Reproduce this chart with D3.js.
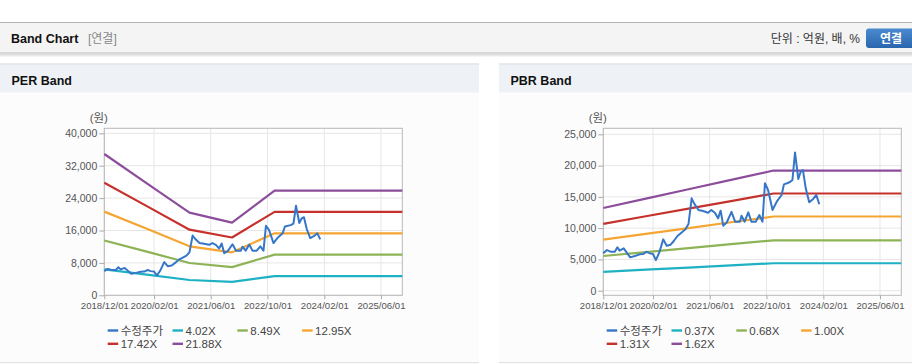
<!DOCTYPE html>
<html><head><meta charset="utf-8">
<script src="https://cdn.jsdelivr.net/npm/d3@7/dist/d3.min.js"></script>
<style>
html,body{margin:0;padding:0;background:#fff;}
svg{display:block;font-family:"Liberation Sans",Arial,"Noto Sans CJK KR",sans-serif;}
</style></head><body>
<svg id="c" width="912" height="364"></svg>
<script>
// ---------- data ----------
const priceDates = ["2018-12-01","2019-01-01","2019-02-01","2019-03-10","2019-04-01","2019-04-20","2019-05-25","2019-06-25","2019-07-20","2019-08-28","2019-10-10","2019-11-10","2019-12-05","2020-01-05","2020-02-01","2020-02-25","2020-03-25","2020-04-28","2020-05-28","2020-07-01","2020-07-28","2020-08-28","2020-10-01","2020-11-05","2020-12-01","2020-12-28","2021-01-18","2021-02-25","2021-04-05","2021-05-18","2021-06-15","2021-07-15","2021-08-12","2021-09-03","2021-09-25","2021-10-25","2021-12-05","2022-01-05","2022-02-15","2022-03-01","2022-03-28","2022-04-28","2022-05-25","2022-07-01","2022-08-01","2022-08-28","2022-09-18","2022-10-15","2022-11-22","2022-12-28","2023-02-08","2023-02-28","2023-04-18","2023-05-12","2023-06-03","2023-07-01","2023-07-22","2023-08-10","2023-09-03","2023-10-03","2023-11-06","2023-12-03","2023-12-28"];
const priceValues = [5970,6500,6240,6240,6930,6400,6770,5970,5330,5540,5810,5860,6240,5970,5860,4900,6080,8210,7200,7360,7940,8740,9270,9810,10660,14760,13960,12900,12740,12470,12900,12470,11570,12790,10400,10900,12600,11030,11030,11990,11030,12530,11030,11030,12100,11030,17170,16100,12900,14230,15300,17000,17330,17700,22100,17860,19020,19290,16370,14130,14660,15300,13810];

const bandDates = ["2018-12-01","2019-12-01","2020-12-01","2021-12-01","2022-12-01","2025-12-01"];
// PER bands
const per402 = [6380,5100,3780,3300,4750,4750];
const per849 = [13540,10770,7980,6960,10040,10040];
const per1295 = [20660,16420,12100,10620,15310,15310];
const per1742 = [27780,22020,16200,14280,20590,20590];
const per2188 = [34900,27640,20400,17940,25860,25860];
// PBR bands
const pbr037 = [3020,3360,3700,4050,4390,4390];
const pbr068 = [5550,6180,6810,7440,8060,8060];
const pbr100 = [8160,9090,10010,10940,11860,11860];
const pbr131 = [10690,11900,13110,14320,15540,15540];
const pbr162 = [13220,14720,16220,17710,19210,19210];

const perLabels = ["수정주가","4.02X","8.49X","12.95X","17.42X","21.88X"];
const pbrLabels = ["수정주가","0.37X","0.68X","1.00X","1.31X","1.62X"];
const xTickLabels = ["2018/12/01","2020/02/01","2021/06/01","2022/10/01","2024/02/01","2025/06/01"];
const perYTicks = [0,8000,16000,24000,32000,40000];
const pbrYTicks = [0,5000,10000,15000,20000,25000];
const xDomain = ["2018-12-01","2025-12-01"];
const perYDomain = [0,41240];
const pbrYDomain = [-735,25960];
const colors = ["#3676c8","#1eb1c4","#8db356","#f5a532","#c6312c","#8c4d9b"];

// ---------- drawing ----------
const svg = d3.select("#c");
const parse = d3.timeParse("%Y-%m-%d");
const parseTick = d3.timeParse("%Y/%m/%d");
const fmt = d3.format(",");

// header
const defs = svg.append("defs");
const sh = defs.append("linearGradient").attr("id","sh").attr("x1",0).attr("y1",0).attr("x2",0).attr("y2",1);
sh.append("stop").attr("offset","0").attr("stop-color","#d4d4d4");
sh.append("stop").attr("offset","1").attr("stop-color","#ffffff");
const bt = defs.append("linearGradient").attr("id","bt").attr("x1",0).attr("y1",0).attr("x2",0).attr("y2",1);
bt.append("stop").attr("offset","0").attr("stop-color","#4b8ad0");
bt.append("stop").attr("offset","1").attr("stop-color","#2a66ad");

svg.append("rect").attr("x",0).attr("y",22).attr("width",912).attr("height",1).attr("fill","#b4b4b4");
svg.append("rect").attr("x",0).attr("y",23).attr("width",912).attr("height",30).attr("fill","#f4f4f4");
svg.append("rect").attr("x",0).attr("y",52.5).attr("width",912).attr("height",1).attr("fill","#bdbdbd");
svg.append("rect").attr("x",0).attr("y",53.5).attr("width",912).attr("height",4).attr("fill","url(#sh)");
svg.append("text").attr("x",11).attr("y",43).attr("font-size","12.5px").attr("font-weight","bold").attr("fill","#111").text("Band Chart");
svg.append("text").attr("x",88).attr("y",43).attr("font-size","12px").attr("fill","#888").text("[연결]");
svg.append("text").attr("x",860).attr("y",43).attr("text-anchor","end").attr("font-size","12px").attr("fill","#333").text("단위 : 억원, 배, %");
svg.append("rect").attr("x",866).attr("y",28.5).attr("width",52).attr("height",19.5).attr("rx",3).attr("fill","url(#bt)");
svg.append("text").attr("x",891).attr("y",43).attr("text-anchor","middle").attr("font-size","12px").attr("font-weight","bold").attr("fill","#fff").text("연결");

function panel(opt){
  const g = svg.append("g");
  g.append("rect").attr("x",opt.px).attr("y",63.5).attr("width",opt.pw).attr("height",1.2).attr("fill","#d6d6d6");
  g.append("rect").attr("x",opt.px).attr("y",64.7).attr("width",opt.pw).attr("height",28).attr("fill","#eef1f6");
  g.append("rect").attr("x",opt.px).attr("y",92.7).attr("width",opt.pw).attr("height",269.5).attr("fill","#fcfcfc");
  g.append("rect").attr("x",opt.px).attr("y",362.2).attr("width",opt.pw).attr("height",1).attr("fill","#dcdcdc");
  g.append("text").attr("x",opt.px+11.5).attr("y",85).attr("font-size","12.5px").attr("font-weight","bold").attr("fill","#111").text(opt.title);

  const L = opt.left, R = opt.left+298, T = 128.3, B = 295.3;
  const x = d3.scaleTime().domain(xDomain.map(parse)).range([L,R]);
  const y = d3.scaleLinear().domain(opt.yDomain).range([B,T]);

  g.append("rect").attr("x",L).attr("y",T).attr("width",R-L).attr("height",B-T).attr("fill","#fff");
  // grid
  g.selectAll(null).data(opt.yTicks).enter().append("line")
    .attr("x1",L).attr("x2",R).attr("y1",d=>y(d)).attr("y2",d=>y(d))
    .attr("stroke","#e6e6e6").attr("stroke-width",1);
  g.selectAll(null).data(xTickLabels).enter().append("line")
    .attr("x1",d=>x(parseTick(d))).attr("x2",d=>x(parseTick(d))).attr("y1",T).attr("y2",B)
    .attr("stroke","#e6e6e6").attr("stroke-width",1);
  g.append("rect").attr("x",L).attr("y",T).attr("width",R-L).attr("height",B-T)
    .attr("fill","none").attr("stroke","#b8b8b8").attr("stroke-width",1);

  // axes
  const ya = d3.axisLeft(y).tickValues(opt.yTicks).tickFormat(fmt).tickSize(5).tickPadding(2);
  const yg = g.append("g").attr("transform",`translate(${L},0)`).call(ya);
  yg.select(".domain").remove();
  yg.selectAll("line").attr("stroke","#aaa");
  yg.selectAll("text").attr("font-size","10.5px").attr("fill","#555").attr("font-family","Liberation Sans, Arial");
  const xa = d3.axisBottom(x).tickValues(xTickLabels.map(parseTick)).tickFormat(d3.timeFormat("%Y/%m/%d")).tickSize(4).tickPadding(3);
  const xg = g.append("g").attr("transform",`translate(0,${B})`).call(xa);
  xg.select(".domain").remove();
  xg.selectAll("line").attr("stroke","#aaa");
  xg.selectAll("text").attr("font-size","9.6px").attr("fill","#555").attr("font-family","Liberation Sans, Arial");

  g.append("text").attr("x",opt.left-5.5).attr("y",122).attr("text-anchor","middle").attr("font-size","11.5px").attr("fill","#555").text("(원)");

  const line = d3.line().x(d=>x(d[0])).y(d=>y(d[1]));
  const bandDs = bandDates.map(parse);
  opt.bands.forEach((arr,i)=>{
    g.append("path").datum(bandDs.map((d,j)=>[d,arr[j]]))
      .attr("d",line).attr("fill","none").attr("stroke",colors[i+1]).attr("stroke-width",2.2).attr("stroke-linejoin","round");
  });
  g.append("path").datum(priceDates.map((d,j)=>[parse(d),priceValues[j]]))
    .attr("d",line).attr("fill","none").attr("stroke",colors[0]).attr("stroke-width",2).attr("stroke-linejoin","round");

  // legend
  const lg = g.append("g");
  opt.labels.forEach((lab,i)=>{
    const col = i<4 ? i : i-4;
    const row = i<4 ? 0 : 1;
    const lx = L+3.4+col*64.8;
    const ly = 330.5+row*13.3;
    lg.append("line").attr("x1",lx).attr("x2",lx+10.5).attr("y1",ly).attr("y2",ly)
      .attr("stroke",colors[i]).attr("stroke-width",2.4);
    lg.append("text").attr("x",lx+13).attr("y",ly+4.2).attr("font-size","11.5px").attr("fill","#444")
      .attr("font-family", i===0 ? "Noto Sans CJK KR, sans-serif" : "Liberation Sans, Arial").text(lab);
  });
}

panel({px:0,pw:479,title:"PER Band",left:104.3,yDomain:perYDomain,yTicks:perYTicks,
  bands:[per402,per849,per1295,per1742,per2188],labels:perLabels});
panel({px:499,pw:413,title:"PBR Band",left:603.3,yDomain:pbrYDomain,yTicks:pbrYTicks,
  bands:[pbr037,pbr068,pbr100,pbr131,pbr162],labels:pbrLabels});
</script>
</body></html>
